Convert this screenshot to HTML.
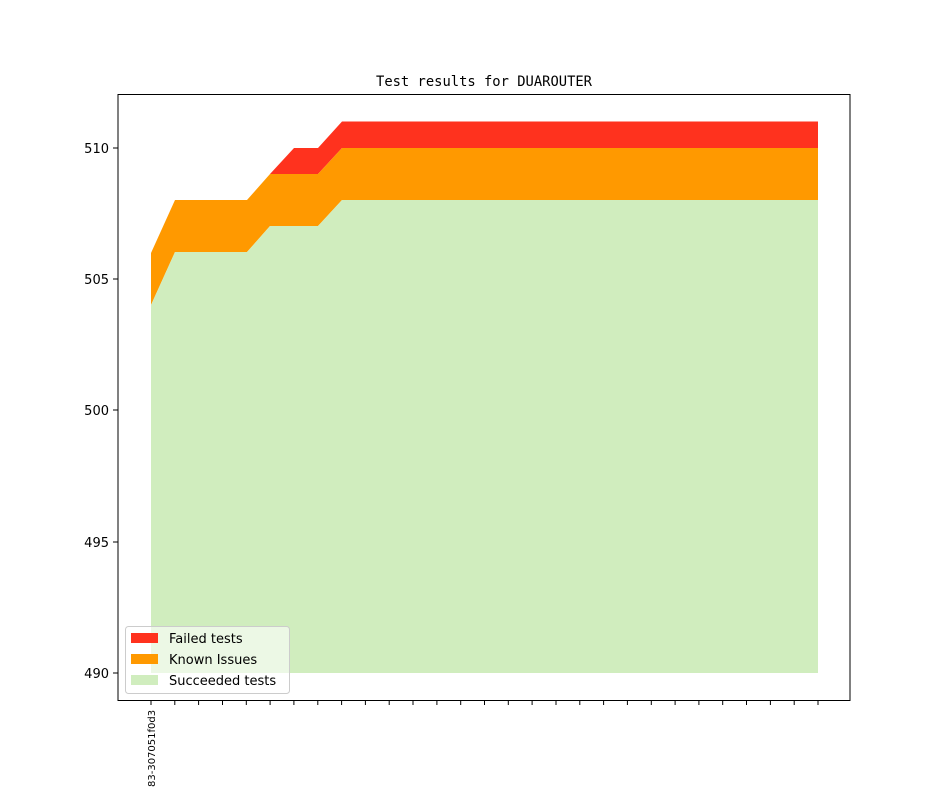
<!DOCTYPE html>
<html><head><style>body{margin:0;background:#fff}svg{display:block}</style></head><body>
<svg width="944" height="787" xmlns="http://www.w3.org/2000/svg" font-family="DejaVu Sans, Liberation Sans, sans-serif">
<rect width="944" height="787" fill="#fff"/>
<text x="484" y="86" font-family="DejaVu Sans Mono, Liberation Mono, monospace" font-size="13.8" text-anchor="middle">Test results for DUAROUTER</text>
<polygon fill="#ff321e" points="151,253 175,200 247,200 270,174 294,148 318,148 342,121.5 818,121.5 818,148 342,148 318,174 294,174 270,174 247,200 175,200 151,253"/>
<polygon fill="#ff9900" points="151,253 175,200 247,200 270,174 318,174 342,148 818,148 818,200 342,200 318,226 270,226 247,252 175,252 151,305"/>
<polygon fill="#d0edbe" points="151,305 175,252 247,252 270,226 318,226 342,200 818,200 818,673 151,673"/>
<rect x="118" y="94.5" width="732" height="606" fill="none" stroke="#000" stroke-width="1"/>
<g stroke="#000" stroke-width="1">
<line x1="113" y1="148" x2="118" y2="148"/><line x1="113" y1="279" x2="118" y2="279"/><line x1="113" y1="410" x2="118" y2="410"/><line x1="113" y1="542" x2="118" y2="542"/><line x1="113" y1="673" x2="118" y2="673"/>
</g>
<g font-size="13" text-anchor="end">
<text x="109" y="153">510</text><text x="109" y="284">505</text><text x="109" y="415">500</text><text x="109" y="547">495</text><text x="109" y="678">490</text>
</g>
<g stroke="#000">
<line x1="151.0" y1="700" x2="151.0" y2="705"/><line x1="174.8" y1="700" x2="174.8" y2="705"/><line x1="198.6" y1="700" x2="198.6" y2="705"/><line x1="222.5" y1="700" x2="222.5" y2="705"/><line x1="246.3" y1="700" x2="246.3" y2="705"/><line x1="270.1" y1="700" x2="270.1" y2="705"/><line x1="293.9" y1="700" x2="293.9" y2="705"/><line x1="317.8" y1="700" x2="317.8" y2="705"/><line x1="341.6" y1="700" x2="341.6" y2="705"/><line x1="365.4" y1="700" x2="365.4" y2="705"/><line x1="389.2" y1="700" x2="389.2" y2="705"/><line x1="413.0" y1="700" x2="413.0" y2="705"/><line x1="436.9" y1="700" x2="436.9" y2="705"/><line x1="460.7" y1="700" x2="460.7" y2="705"/><line x1="484.5" y1="700" x2="484.5" y2="705"/><line x1="508.3" y1="700" x2="508.3" y2="705"/><line x1="532.1" y1="700" x2="532.1" y2="705"/><line x1="556.0" y1="700" x2="556.0" y2="705"/><line x1="579.8" y1="700" x2="579.8" y2="705"/><line x1="603.6" y1="700" x2="603.6" y2="705"/><line x1="627.4" y1="700" x2="627.4" y2="705"/><line x1="651.3" y1="700" x2="651.3" y2="705"/><line x1="675.1" y1="700" x2="675.1" y2="705"/><line x1="698.9" y1="700" x2="698.9" y2="705"/><line x1="722.7" y1="700" x2="722.7" y2="705"/><line x1="746.5" y1="700" x2="746.5" y2="705"/><line x1="770.4" y1="700" x2="770.4" y2="705"/><line x1="794.2" y1="700" x2="794.2" y2="705"/><line x1="818.0" y1="700" x2="818.0" y2="705"/>
</g>
<text transform="translate(155,787) rotate(-90)" font-size="10">83-307051f0d3</text>
<rect x="125.5" y="626.5" width="164" height="67" rx="3" fill="#fff" fill-opacity="0.6" stroke="#ccc"/>
<rect x="131" y="633" width="27" height="10" fill="#ff321e"/>
<rect x="131" y="654" width="27" height="10" fill="#ff9900"/>
<rect x="131" y="675" width="27" height="10" fill="#d0edbe"/>
<g font-size="13"><text x="169" y="643">Failed tests</text><text x="169" y="664">Known Issues</text><text x="169" y="685">Succeeded tests</text></g>
</svg>
</body></html>
